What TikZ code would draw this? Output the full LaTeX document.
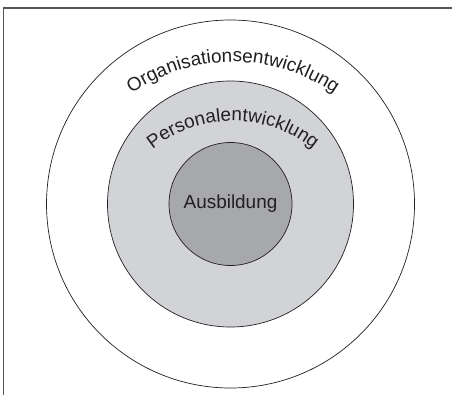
\documentclass[tikz,border=0pt]{standalone}
\usepackage{fontspec}
\setmainfont{Liberation Sans}
\usepackage{tikz}
\usetikzlibrary{decorations.text}
\definecolor{RingLight}{RGB}{210,211,214}
\definecolor{CoreGray}{RGB}{167,168,171}
\definecolor{FrameGray}{RGB}{85,85,85}
\definecolor{InkDark}{RGB}{35,31,32}
\tikzset{
	ring/.style={circle, draw=InkDark, line width=0.7bp, inner sep=0pt},
	arclabel/.style={decorate, decoration={text along path, text align=center, text color=InkDark,
		text={|\fontsize{19}{19}\selectfont|#1}}},
}

\begin{document}
\begin{tikzpicture}[x=1bp, y=1bp]
	\useasboundingbox (0,0) rectangle (452,395);
	% frame
	\draw[FrameGray, line width=1.5bp] (3.7,0) -- (3.7,387) -- (452,387);

	% rings
	\coordinate (c) at (230.5,191);
	\node[ring, fill=white, minimum size=368bp] (orga) at (c) {};
	\node[ring, fill=RingLight, minimum size=246bp] (perso) at (c) {};
	\node[ring, fill=CoreGray, minimum size=123bp, text=InkDark,
		font=\fontsize{19}{19}\selectfont] (ausb) at (c) {Ausbildung};

	% curved labels
	\path[arclabel=Organisationsentwicklung] (233,155) ++(128:178) arc[start angle=128, end angle=52, radius=178];
	\path[arclabel=Personalentwicklung] (233,146) ++(133:128) arc[start angle=133, end angle=47, radius=128];
\end{tikzpicture}
\end{document}
